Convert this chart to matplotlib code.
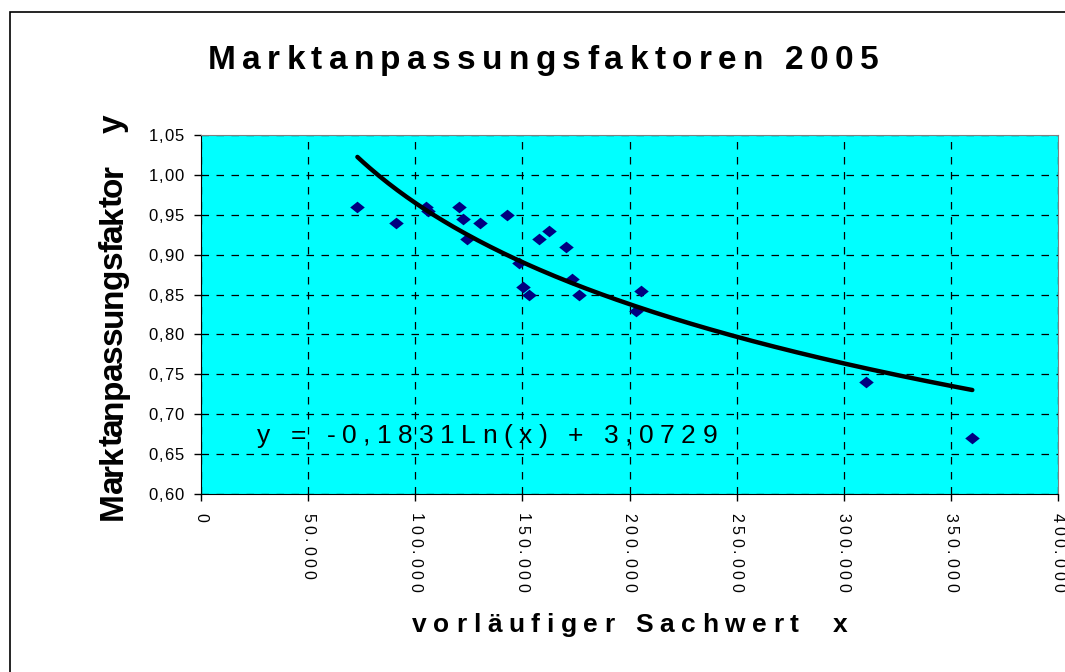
import numpy as np
import matplotlib.pyplot as plt
from matplotlib.patches import Rectangle
from matplotlib.transforms import IdentityTransform

plt.rcParams['font.family'] = ['Liberation Sans', 'DejaVu Sans']

# Daten: vorläufiger Sachwert x / Marktanpassungsfaktor y
sachwert = [73000, 91000, 105000, 105800, 120500, 122400, 124300, 130200, 143000,
            148400, 150200, 153200, 157900, 162300, 170500, 173000, 176300,
            203000, 205200, 310200, 360000]
faktor = [0.96, 0.94, 0.96, 0.955, 0.96, 0.945, 0.92, 0.94, 0.95,
          0.89, 0.86, 0.85, 0.92, 0.93, 0.91, 0.87, 0.85,
          0.83, 0.855, 0.74, 0.67]

# Trendlinie (logarithmisch) aus der angezeigten Gleichung
koeff_a = -0.1831
koeff_b = 3.0729

x_ticks = np.arange(0, 400001, 50000)
y_ticks = np.arange(0.60, 1.0501, 0.05)
x_labels = [f'{int(v):,}'.replace(',', '.') for v in x_ticks]
y_labels = [f'{v:.2f}'.replace('.', ',') for v in y_ticks]

W, H = 1065, 672
fig = plt.figure(figsize=(W / 100, H / 100), dpi=100)
renderer = fig.canvas.get_renderer()


def gesperrt(x, y, s, size, gap, angle=0, ha='left', weight='normal'):
    # Text mit Zeichenabstand; x, y in Bildpixeln (y von oben)
    kw = dict(fontsize=size, fontweight=weight)
    def breite(t):
        a = fig.text(0, 0, t + 'x', **kw)
        b = fig.text(0, 0, 'x', **kw)
        w = a.get_window_extent(renderer).width - b.get_window_extent(renderer).width
        a.remove()
        b.remove()
        return w
    offs = [breite(s[:i]) + i * gap if i else 0.0 for i in range(len(s))]
    total = breite(s) + (len(s) - 1) * gap
    start = {'left': 0, 'center': -total / 2, 'right': -total}[ha]
    c, sn = np.cos(np.radians(angle)), np.sin(np.radians(angle))
    for ch, o in zip(s, offs):
        if ch == ' ':
            continue
        d = start + o
        fig.text(x + d * c, (H - y) + d * sn, ch, transform=IdentityTransform(),
                 rotation=angle, rotation_mode='anchor', ha='left', va='baseline', **kw)


ax = fig.add_axes([201 / W, 1 - 494 / H, 857 / W, 359 / H])
ax.set_facecolor('#00FFFF')

raute = [(-1, 0), (0, 0.8), (1, 0), (0, -0.8), (-1, 0)]
ax.scatter(sachwert, faktor, marker=raute, s=110, color='#000080', zorder=3, linewidths=0)

xt = np.linspace(min(sachwert), max(sachwert), 200)
ax.plot(xt, koeff_a * np.log(xt) + koeff_b, color='black', lw=3.2, zorder=4,
        solid_capstyle='round')

ax.set_xlim(0, 400000)
ax.set_ylim(0.60, 1.05)
ax.set_xticks(x_ticks)
ax.set_yticks(y_ticks)
ax.set_xticklabels([])
ax.set_yticklabels([])
ax.tick_params(direction='out', length=5, width=1, color='black')
ax.grid(True, color='black', linestyle=(0, (6, 6)), lw=0.9)
ax.set_axisbelow(True)
for s in ['top', 'right']:
    ax.spines[s].set_color('#808080')
for s in ['left', 'bottom']:
    ax.spines[s].set_color('black')

# Achsbeschriftungen mit Sperrung
for v, lab in zip(y_ticks, y_labels):
    py = H - ax.transData.transform((0, v))[1]
    gesperrt(184, py + 6, lab, 12, 1.0, ha='right')
for v, lab in zip(x_ticks, x_labels):
    px = ax.transData.transform((v, 0.6))[0]
    gesperrt(px - 5, 513, lab, 11.5, 3.5, angle=-90)

gesperrt(257, 443, 'y = -0,1831Ln(x) + 3,0729', 19, 6.5)
gesperrt(543, 69, 'Marktanpassungsfaktoren 2005', 24, 6.3, ha='center', weight='bold')
gesperrt(630, 632, 'vorläufiger Sachwert  x', 19, 6.6, ha='center', weight='bold')
gesperrt(122, 520, 'Marktanpassungsfaktor    y', 24, -1.1, angle=90, weight='bold')

fig.patches.append(Rectangle((10 / W, -0.1), 1.2, 1 - 12 / H + 0.1, transform=fig.transFigure,
                             fill=False, edgecolor='black', lw=1.2))

fig.savefig('out.png', dpi=100)
